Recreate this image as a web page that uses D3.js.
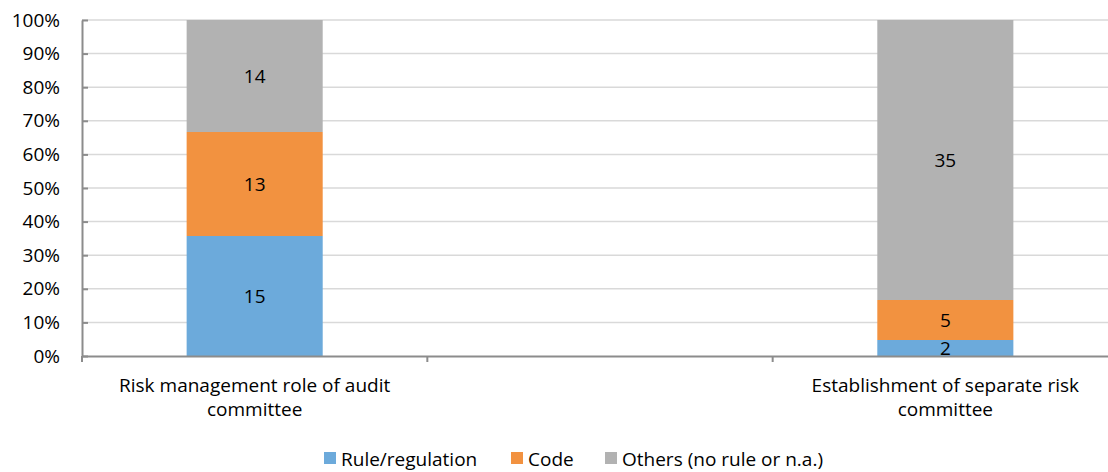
<!DOCTYPE html>
<html>
<head>
<meta charset="utf-8">
<script src="https://cdn.jsdelivr.net/npm/d3@7"></script>
<style>
  body { margin: 0; background: #fff; }
  svg { font-family: "Open Sans", sans-serif; }
</style>
</head>
<body>
<script>
var w = 1108;
var h = 472;

// categories (middle slot is empty in the source chart)
var categories = ["Risk management role of audit committee", "", "Establishment of separate risk committee"];
var seriesNames = ["Rule/regulation", "Code", "Others (no rule or n.a.)"];
var ruleRegulation = [15, 0, 2];
var code = [13, 0, 5];
var others = [14, 0, 35];
var yTicks = [0, 0.1, 0.2, 0.3, 0.4, 0.5, 0.6, 0.7, 0.8, 0.9, 1];

var colors = ["#6caadb", "#f29240", "#b2b2b2"];
var fontSize = "19px";

var dataset = categories.map(function(c, i) {
    return { cat: c, i: i, rule: ruleRegulation[i], code: code[i], others: others[i] };
});

var plotLeft = 82, plotRight = 1118, plotTop = 20, plotBottom = 356;

var xScale = d3.scaleBand()
    .domain(d3.range(categories.length))
    .range([plotLeft, plotRight])
    .padding(0);

var yScale = d3.scaleLinear()
    .domain([0, 1])
    .range([plotBottom, plotTop]);

var stack = d3.stack()
    .keys(["rule", "code", "others"])
    .offset(d3.stackOffsetExpand);

var series = stack(dataset);

var svg = d3.select("body")
    .append("svg")
    .attr("width", w)
    .attr("height", h);

// gridlines
svg.append("g")
    .selectAll("line")
    .data(yTicks.slice(1))
    .enter()
    .append("line")
    .attr("x1", plotLeft)
    .attr("x2", plotRight)
    .attr("y1", function(d) { return yScale(d); })
    .attr("y2", function(d) { return yScale(d); })
    .attr("stroke", "#d9d9d9")
    .attr("stroke-width", 1.5);

var barW = xScale.bandwidth() * 0.394;

function valid(p) { return !isNaN(p[1]) && p[1] > p[0]; }

var groups = svg.selectAll("g.series")
    .data(series)
    .enter()
    .append("g")
    .attr("class", "series")
    .style("fill", function(d, i) { return colors[i]; });

groups.selectAll("rect")
    .data(function(d) { return d.filter(valid); })
    .enter()
    .append("rect")
    .attr("x", function(d) { return xScale(d.data.i) + (xScale.bandwidth() - barW) / 2; })
    .attr("y", function(d) { return yScale(d[1]); })
    .attr("height", function(d) { return yScale(d[0]) - yScale(d[1]); })
    .attr("width", barW);

// value labels
series.forEach(function(s) {
    svg.append("g")
        .selectAll("text")
        .data(s.filter(valid))
        .enter()
        .append("text")
        .attr("x", function(d) { return xScale(d.data.i) + xScale.bandwidth() / 2; })
        .attr("y", function(d) { return (yScale(d[0]) + yScale(d[1])) / 2; })
        .attr("dy", "0.35em")
        .attr("text-anchor", "middle")
        .style("font-size", fontSize)
        .style("fill", "#000")
        .text(function(d) { return d.data[s.key]; });
});

// y axis
var yAxis = d3.axisLeft(yScale)
    .tickValues(yTicks)
    .tickFormat(d3.format(".0%"))
    .tickSizeInner(-6)
    .tickSizeOuter(0)
    .tickPadding(22);

var gy = svg.append("g")
    .attr("transform", "translate(" + plotLeft + ",0)")
    .call(yAxis);
gy.select(".domain").attr("stroke", "#8c8c8c").attr("stroke-width", 2);
gy.selectAll(".tick line").attr("stroke", "#8c8c8c").attr("stroke-width", 2);
gy.selectAll(".tick text")
    .style("font-size", fontSize)
    .style("font-family", "'Open Sans', sans-serif")
    .attr("fill", "#000");

// x axis
var xAxis = d3.axisBottom(xScale)
    .tickSizeInner(0)
    .tickSizeOuter(0)
    .tickFormat("");

var gx = svg.append("g")
    .attr("transform", "translate(0," + plotBottom + ")")
    .call(xAxis);
gx.select(".domain").attr("stroke", "#8c8c8c").attr("stroke-width", 2);
gx.selectAll(".tick").remove();

// boundary tick marks between categories
gx.selectAll("line.bt")
    .data(d3.range(categories.length + 1))
    .enter()
    .append("line")
    .attr("class", "bt")
    .attr("x1", function(i) { return i < categories.length ? xScale(i) : plotRight; })
    .attr("x2", function(i) { return i < categories.length ? xScale(i) : plotRight; })
    .attr("y1", 0)
    .attr("y2", 6)
    .attr("stroke", "#8c8c8c")
    .attr("stroke-width", 2);

// category labels, wrapped
function wrap(textSel, width) {
    textSel.each(function() {
        var text = d3.select(this);
        var words = text.text().split(/\s+/).filter(function(s) { return s.length; });
        var x = text.attr("x");
        text.text(null);
        var line = [];
        var tspan = text.append("tspan").attr("x", x).attr("dy", 0);
        words.forEach(function(word) {
            line.push(word);
            tspan.text(line.join(" "));
            if (tspan.node().getComputedTextLength() > width && line.length > 1) {
                line.pop();
                tspan.text(line.join(" "));
                line = [word];
                tspan = text.append("tspan").attr("x", x).attr("dy", "24px").text(word);
            }
        });
    });
}

svg.append("g")
    .selectAll("text")
    .data(dataset.filter(function(d) { return d.cat; }))
    .enter()
    .append("text")
    .attr("x", function(d) { return xScale(d.i) + xScale.bandwidth() / 2; })
    .attr("y", 392)
    .attr("text-anchor", "middle")
    .style("font-size", fontSize)
    .style("fill", "#000")
    .text(function(d) { return d.cat; })
    .call(wrap, 300);

// legend
var legendX = [324, 511, 605];
var legend = svg.append("g")
    .selectAll("g")
    .data(seriesNames)
    .enter()
    .append("g")
    .attr("transform", function(d, i) { return "translate(" + legendX[i] + ",452)"; });

legend.append("rect")
    .attr("width", 12)
    .attr("height", 12)
    .attr("fill", function(d, i) { return colors[i]; });

legend.append("text")
    .attr("x", 17)
    .attr("y", 14)
    .style("font-size", fontSize)
    .style("fill", "#000")
    .text(function(d) { return d; });
</script>
</body>
</html>
